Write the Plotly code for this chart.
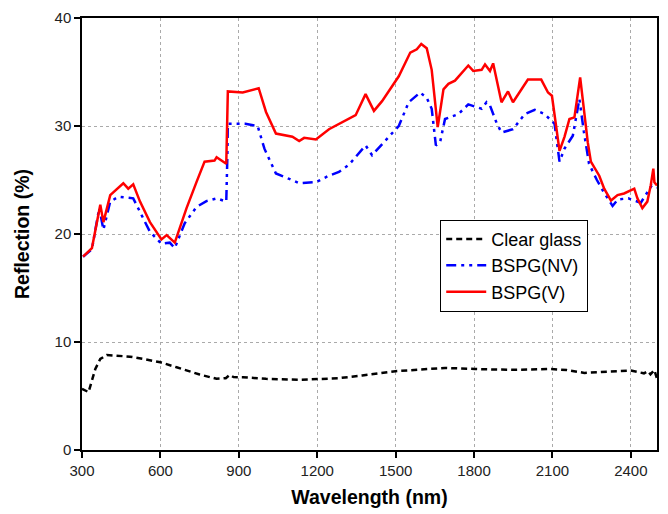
import plotly.graph_objects as go

# Clear glass
wl_clear = [300, 325, 351, 370, 395, 440, 484, 535, 600, 662, 750, 815, 850, 865, 880, 915, 1004, 1131, 1245, 1283,
            1372, 1499, 1626, 1689, 1804, 1943, 2095, 2155, 2222, 2324, 2400, 2450, 2465, 2475, 2490, 2500]
r_clear = [5.67, 5.36, 7.5, 8.43, 8.8, 8.7, 8.64, 8.43, 8.12, 7.66, 6.99, 6.59, 6.65, 6.95, 6.75, 6.74, 6.59, 6.5, 6.6, 6.65,
           6.9, 7.3, 7.5, 7.6, 7.5, 7.42, 7.5, 7.4, 7.14, 7.3, 7.35, 7.1, 7.3, 7.0, 7.4, 6.6]

# BSPG(NV)
wl_nv = [304, 338, 366, 382, 408, 440, 496, 535, 560, 604, 636, 655, 693, 738, 776, 815, 852, 856, 858, 925, 972, 998,
         1042, 1093, 1131, 1195, 1245, 1283, 1321, 1385, 1410, 1474, 1512, 1550, 1594, 1619, 1638, 1654, 1670, 1689,
         1740, 1778, 1829, 1848, 1861, 1886, 1905, 1949, 1994, 2032, 2070, 2108, 2127, 2146, 2178, 2203, 2220, 2240,
         2270, 2298, 2330, 2350, 2390, 2438, 2463, 2480, 2500]
r_nv = [17.9, 18.6, 22.4, 20.4, 23.0, 23.45, 23.3, 21.45, 20.2, 19.1, 19.2, 18.7, 21.0, 22.5, 23.05, 23.3, 23.0, 27.0, 30.2,
        30.2, 30.0, 27.9, 25.6, 25.1, 24.7, 24.8, 25.4, 25.75, 26.4, 28.2, 27.3, 29.0, 30.0, 32.2, 33.1, 32.6, 31.6, 28.2,
        28.5, 30.65, 31.1, 32.0, 31.6, 32.2, 31.9, 30.3, 29.4, 29.7, 31.1, 31.5, 31.1, 30.2, 26.7, 27.9, 29.1, 32.5, 29.5,
        26.5, 25.0, 23.8, 22.6, 23.2, 23.3, 22.9, 23.8, 24.5, 24.3]

# BSPG(V)
wl_v = [304, 338, 370, 382, 408, 458, 477, 496, 522, 560, 604, 624, 655, 700, 738, 769, 807, 815, 852, 855, 858, 915, 976,
        1004, 1042, 1105, 1131, 1150, 1195, 1245, 1283, 1347, 1385, 1417, 1448, 1512, 1556, 1581, 1598, 1619, 1638, 1661,
        1683, 1702, 1727, 1778, 1797, 1829, 1842, 1861, 1873, 1905, 1930, 1949, 2006, 2057, 2083, 2098, 2127, 2146, 2165,
        2184, 2206, 2222, 2235, 2247, 2279, 2298, 2324, 2349, 2374, 2413, 2425, 2444, 2463, 2476, 2486, 2490, 2500]
r_v = [17.9, 18.7, 22.7, 21.1, 23.6, 24.7, 24.2, 24.6, 23.0, 21.1, 19.5, 19.9, 19.2, 22.4, 24.8, 26.7, 26.8, 27.1, 26.5,
       30.0, 33.2, 33.1, 33.5, 31.3, 29.3, 29.0, 28.6, 28.9, 28.75, 29.7, 30.2, 31.0, 32.95, 31.4, 32.3, 34.6, 36.8, 37.1,
       37.6, 37.2, 35.2, 29.9, 33.4, 33.9, 34.2, 35.6, 35.1, 35.2, 35.7, 35.1, 35.8, 32.2, 33.2, 32.2, 34.3, 34.3, 33.1,
       32.8, 27.7, 29.0, 30.65, 30.8, 34.5, 31.3, 28.5, 26.7, 25.4, 24.2, 23.1, 23.6, 23.75, 24.2, 23.3, 22.4, 23.0, 24.5,
       26.05, 24.8, 24.5]

x_ticks = [300, 600, 900, 1200, 1500, 1800, 2100, 2400]
y_ticks = [0, 10, 20, 30, 40]

FONT = "Arial, Liberation Sans, sans-serif"

fig = go.Figure()
fig.add_trace(go.Scatter(x=wl_clear, y=r_clear, mode="lines", name="Clear glass",
                         line=dict(color="black", width=2.5, dash="6px,4px")))
fig.add_trace(go.Scatter(x=wl_nv, y=r_nv, mode="lines", name="BSPG(NV)",
                         line=dict(color="#0000ff", width=2.5, dash="10px,5px,3px,5px,3px,5px")))
fig.add_trace(go.Scatter(x=wl_v, y=r_v, mode="lines", name="BSPG(V)",
                         line=dict(color="#ff0000", width=2.5)))

axis_common = dict(showline=True, linecolor="black", linewidth=1.5, mirror=True,
                   ticks="outside", ticklen=6, tickwidth=1.5, tickcolor="black",
                   showgrid=True, gridcolor="#aaaaaa", griddash="dot", gridwidth=1,
                   zeroline=False, tickfont=dict(family=FONT, size=15, color="#222222"))

fig.update_xaxes(range=[300, 2500], tickvals=x_ticks,
                 title=dict(text="<b>Wavelength (nm)</b>", font=dict(family=FONT, size=19.5, color="black"), standoff=13),
                 **axis_common)
fig.update_yaxes(range=[0, 40], tickvals=y_ticks,
                 title=dict(text="<b>Reflection (%)</b>", font=dict(family=FONT, size=19.5, color="black"), standoff=20),
                 **axis_common)

fig.update_layout(
    width=668, height=514,
    margin=dict(l=82, r=9, t=15, b=64),
    paper_bgcolor="white", plot_bgcolor="white",
    legend=dict(x=0.623, y=0.533, xanchor="left", yanchor="top",
                bgcolor="white", bordercolor="black", borderwidth=1,
                font=dict(family=FONT, size=18, color="black"),
                tracegroupgap=0, itemwidth=40),
    showlegend=True,
)

fig.write_html("out.html")
